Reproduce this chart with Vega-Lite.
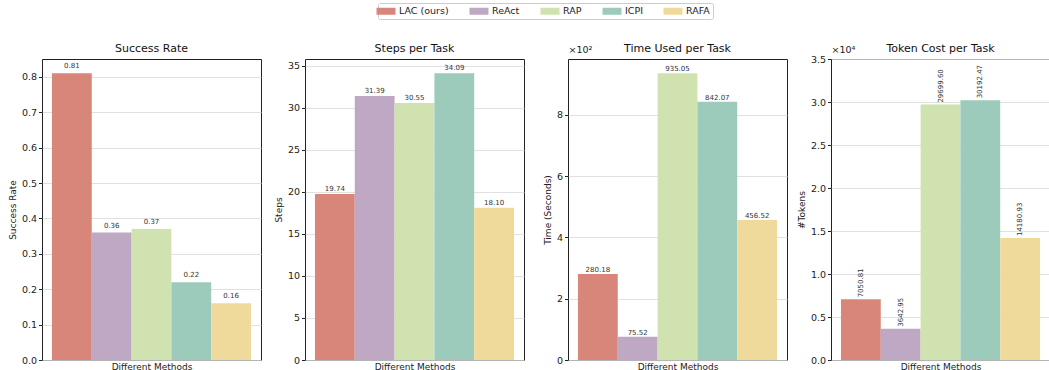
{
  "$schema": "https://vega.github.io/schema/vega-lite/v6.json",
  "padding": {"left": 7, "top": 2, "right": 0, "bottom": 0},
  "autosize": {"type": "pad"},
  "bounds": "flush",
  "spacing": 44,
  "datasets": {
    "methods": [
      {"method": "LAC (ours)", "success": 0.81, "steps": 19.74, "time": 280.18, "tokens": 7050.81},
      {"method": "ReAct", "success": 0.36, "steps": 31.39, "time": 75.52, "tokens": 3642.95},
      {"method": "RAP", "success": 0.37, "steps": 30.55, "time": 935.05, "tokens": 29699.60},
      {"method": "ICPI", "success": 0.22, "steps": 34.09, "time": 842.07, "tokens": 30192.47},
      {"method": "RAFA", "success": 0.16, "steps": 18.10, "time": 456.52, "tokens": 14180.93}
    ]
  },
  "data": {"name": "methods"},
  "config": {
    "font": "DejaVu Sans",
    "view": {"stroke": "#222222", "strokeWidth": 1},
    "axis": {
      "domain": false,
      "grid": true,
      "gridColor": "#d9d9d9",
      "gridWidth": 0.8,
      "tickColor": "#222222",
      "tickSize": 3.5,
      "labelFontSize": 9.5,
      "labelColor": "#222222",
      "labelPadding": 2,
      "titleFontSize": 9,
      "titleFontWeight": "normal",
      "titleColor": "#222222",
      "titlePadding": 4
    },
    "title": {"fontSize": 11, "fontWeight": "normal", "offset": 5, "color": "#111111"},
    "text": {"fontSize": 7, "color": "#333333"}
  },
  "resolve": {"legend": {"color": "shared"}},
  "hconcat": [
    {
      "width": 219,
      "height": 301,
      "title": "Success Rate",
      "encoding": {
        "x": {"field": "method", "type": "nominal", "sort": null,
              "scale": {"paddingInner": 0, "paddingOuter": 0.25},
              "axis": {"labels": false, "ticks": false, "grid": false, "title": "Different Methods", "titlePadding": 2}},
        "y": {"field": "success", "type": "quantitative",
              "scale": {"domain": [0, 0.8505], "nice": false, "zero": true},
              "axis": {"values": [0, 0.1, 0.2, 0.3, 0.4, 0.5, 0.6, 0.7, 0.8], "format": ".1f", "title": "Success Rate"}}
      },
      "layer": [
        {
          "mark": {"type": "bar"},
          "encoding": {
            "color": {"field": "method", "type": "nominal", "sort": null,
                      "scale": {"domain": ["LAC (ours)", "ReAct", "RAP", "ICPI", "RAFA"],
                                "range": ["#D8867A", "#BEA8C3", "#D0E2B0", "#9DCBBB", "#EFDA9C"]},
                      "legend": {"orient": "none", "legendX": 336, "legendY": -56, "direction": "horizontal",
                                 "columns": 5, "title": null, "symbolType": "M-1.9,-0.7H1.9V0.7H-1.9Z",
                                 "symbolSize": 100, "symbolStrokeWidth": 0, "labelFontSize": 9.5,
                                 "labelColor": "#222222", "labelOffset": 8, "columnPadding": 20,
                                 "strokeColor": "#cccccc", "fillColor": "#ffffff", "padding": 3, "cornerRadius": 2}}
          }
        },
        {
          "mark": {"type": "text", "baseline": "bottom", "dy": -4},
          "encoding": {"text": {"field": "success", "format": ".2f"}}
        }
      ]
    },
    {
      "width": 219,
      "height": 301,
      "title": "Steps per Task",
      "encoding": {
        "x": {"field": "method", "type": "nominal", "sort": null,
              "scale": {"paddingInner": 0, "paddingOuter": 0.25},
              "axis": {"labels": false, "ticks": false, "grid": false, "title": "Different Methods", "titlePadding": 2}},
        "y": {"field": "steps", "type": "quantitative",
              "scale": {"domain": [0, 35.79], "nice": false, "zero": true},
              "axis": {"values": [0, 5, 10, 15, 20, 25, 30, 35], "format": "d", "title": "Steps"}}
      },
      "layer": [
        {
          "mark": {"type": "bar"},
          "encoding": {
            "color": {"field": "method", "type": "nominal", "sort": null,
                      "scale": {"domain": ["LAC (ours)", "ReAct", "RAP", "ICPI", "RAFA"],
                                "range": ["#D8867A", "#BEA8C3", "#D0E2B0", "#9DCBBB", "#EFDA9C"]}}
          }
        },
        {
          "mark": {"type": "text", "baseline": "bottom", "dy": -2},
          "encoding": {"text": {"field": "steps", "format": ".2f"}}
        }
      ]
    },
    {
      "width": 219,
      "height": 301,
      "title": {"text": "Time Used per Task", "offset": -10},
      "encoding": {
        "x": {"field": "method", "type": "nominal", "sort": null,
              "scale": {"paddingInner": 0, "paddingOuter": 0.25},
              "axis": {"labels": false, "ticks": false, "grid": false, "title": "Different Methods", "titlePadding": 2}},
        "y": {"field": "time", "type": "quantitative",
              "scale": {"domain": [0, 981.8], "nice": false, "zero": true}}
      },
      "resolve": {"axis": {"y": "independent"}},
      "layer": [
        {
          "mark": {"type": "bar"},
          "encoding": {
            "y": {"field": "time", "type": "quantitative",
                  "scale": {"domain": [0, 981.8], "nice": false, "zero": true},
                  "axis": {"values": [0, 200, 400, 600, 800], "labelExpr": "datum.value / 100", "title": "Time (Seconds)"}},
            "color": {"field": "method", "type": "nominal", "sort": null,
                      "scale": {"domain": ["LAC (ours)", "ReAct", "RAP", "ICPI", "RAFA"],
                                "range": ["#D8867A", "#BEA8C3", "#D0E2B0", "#9DCBBB", "#EFDA9C"]}}
          }
        },
        {
          "mark": {"type": "text", "baseline": "bottom", "dy": -1},
          "encoding": {
            "y": {"field": "time", "type": "quantitative",
                  "axis": {"orient": "left", "labels": false, "ticks": false, "grid": false, "domain": false,
                           "title": "×10²", "titleAngle": 0, "titleX": 0, "titleY": -5, "titleAlign": "left",
                           "titleBaseline": "bottom", "titleFontSize": 9.5}},
            "text": {"field": "time", "format": ".2f"}
          }
        }
      ]
    },
    {
      "width": 219,
      "height": 301,
      "title": {"text": "Token Cost per Task", "offset": -10},
      "encoding": {
        "x": {"field": "method", "type": "nominal", "sort": null,
              "scale": {"paddingInner": 0, "paddingOuter": 0.25},
              "axis": {"labels": false, "ticks": false, "grid": false, "title": "Different Methods", "titlePadding": 2}},
        "y": {"field": "tokens", "type": "quantitative",
              "scale": {"domain": [0, 35000], "nice": false, "zero": true}}
      },
      "resolve": {"axis": {"y": "independent"}},
      "layer": [
        {
          "mark": {"type": "bar"},
          "encoding": {
            "y": {"field": "tokens", "type": "quantitative",
                  "scale": {"domain": [0, 35000], "nice": false, "zero": true},
                  "axis": {"values": [0, 5000, 10000, 15000, 20000, 25000, 30000, 35000],
                           "labelExpr": "format(datum.value / 10000, '.1f')", "title": "#Tokens"}},
            "color": {"field": "method", "type": "nominal", "sort": null,
                      "scale": {"domain": ["LAC (ours)", "ReAct", "RAP", "ICPI", "RAFA"],
                                "range": ["#D8867A", "#BEA8C3", "#D0E2B0", "#9DCBBB", "#EFDA9C"]}}
          }
        },
        {
          "mark": {"type": "text", "angle": 270, "align": "left", "baseline": "middle", "dx": 2},
          "encoding": {
            "y": {"field": "tokens", "type": "quantitative",
                  "axis": {"orient": "left", "labels": false, "ticks": false, "grid": false, "domain": false,
                           "title": "×10⁴", "titleAngle": 0, "titleX": 0, "titleY": -5, "titleAlign": "left",
                           "titleBaseline": "bottom", "titleFontSize": 9.5}},
            "text": {"field": "tokens", "format": ".2f"}
          }
        }
      ]
    }
  ]
}
